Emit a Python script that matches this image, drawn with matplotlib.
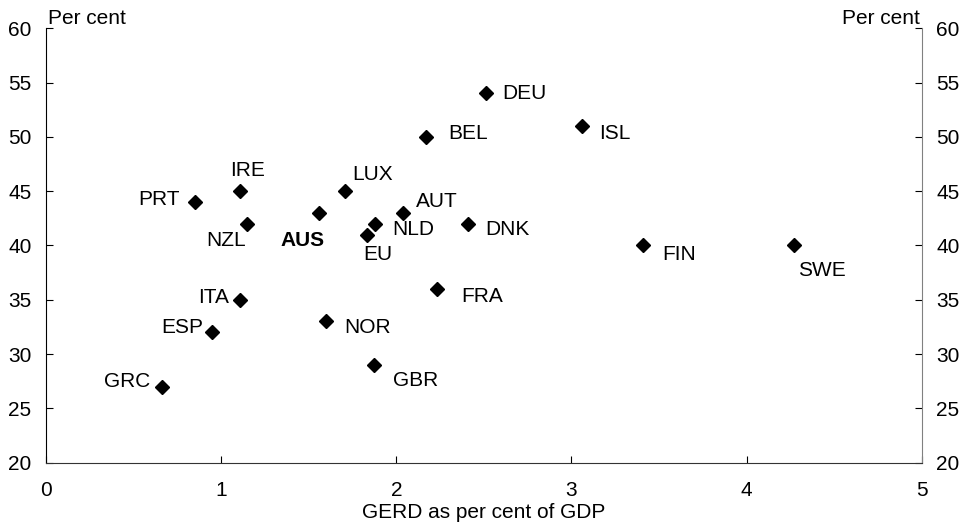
import matplotlib
matplotlib.use("Agg")
import matplotlib.pyplot as plt

plt.rcParams['font.family'] = ['Liberation Sans', 'DejaVu Sans']

# GERD as per cent of GDP vs share (per cent)
countries = ["PRT", "IRE", "NZL", "AUS", "LUX", "EU", "NLD", "AUT", "BEL", "DNK",
             "DEU", "ISL", "FIN", "SWE", "ITA", "ESP", "GRC", "NOR", "GBR", "FRA"]
gerd = [0.85, 1.11, 1.15, 1.56, 1.71, 1.83, 1.88, 2.04, 2.17, 2.41,
        2.51, 3.06, 3.41, 4.27, 1.11, 0.95, 0.66, 1.60, 1.87, 2.23]
share = [44, 45, 42, 43, 45, 41, 42, 43, 50, 42,
         54, 51, 40, 40, 35, 32, 27, 33, 29, 36]

# label placement: (dx px, dy px to baseline, ha)
label_pos = {
    "PRT": (-15, -3.5, "right"), "IRE": (7, 15.5, "center"),
    "NZL": (-2, -22.5, "right"), "AUS": (5, -33.5, "right"),
    "LUX": (7, 11.5, "left"), "EU": (-3, -25.5, "left"),
    "NLD": (17, -11.5, "left"), "AUT": (13, 5.5, "left"),
    "BEL": (22, -2.5, "left"), "DNK": (17, -11.5, "left"),
    "DEU": (17, -5.5, "left"), "ISL": (17, -13.5, "left"),
    "FIN": (19, -14.5, "left"), "SWE": (4, -30.5, "left"),
    "ITA": (-11, -3.5, "right"), "ESP": (-9, -0.5, "right"),
    "GRC": (-11, -0.5, "right"), "NOR": (18, -11.5, "left"),
    "GBR": (19, -21.5, "left"), "FRA": (25, -13.5, "left"),
}

px = 72.0 / 100
fs = 15

fig = plt.figure(figsize=(9.65, 5.32), dpi=100)
ax = fig.add_axes([0.0477, 0.1303, 0.9074, 0.8167])

ax.plot(gerd, share, linestyle="none", marker="D", markersize=7.2,
        color="black", clip_on=False)

for c, xv, yv in zip(countries, gerd, share):
    dx, dy, ha = label_pos[c]
    ax.annotate(c, (xv, yv), xytext=(dx * px, dy * px), textcoords="offset points",
                ha=ha, va="baseline", fontsize=fs,
                fontweight="bold" if c == "AUS" else "normal")

ax.set_xlim(0, 5)
ax.set_ylim(20, 60)
ax.set_xticks([0, 1, 2, 3, 4, 5])
ax.set_yticks([20, 25, 30, 35, 40, 45, 50, 55, 60])

ax.spines["top"].set_visible(False)
ax.spines["left"].set_color("black")
ax.spines["right"].set_color("#808080")
ax.spines["bottom"].set_color("#333333")

ax.tick_params(axis="y", direction="in", length=5, left=True, right=True,
               labelleft=True, labelright=True, labelsize=fs, pad=10.5)
ax.tick_params(axis="x", direction="in", length=5, labelsize=fs, pad=13)

ax.set_xlabel("GERD as per cent of GDP", fontsize=fs, labelpad=2)

ax.annotate("Per cent", (0, 1), xycoords="axes fraction", xytext=(2 * px, 4 * px),
            textcoords="offset points", ha="left", va="baseline", fontsize=fs)
ax.annotate("Per cent", (1, 1), xycoords="axes fraction", xytext=(-2 * px, 4 * px),
            textcoords="offset points", ha="right", va="baseline", fontsize=fs)

plt.savefig("out.png", dpi=100)
